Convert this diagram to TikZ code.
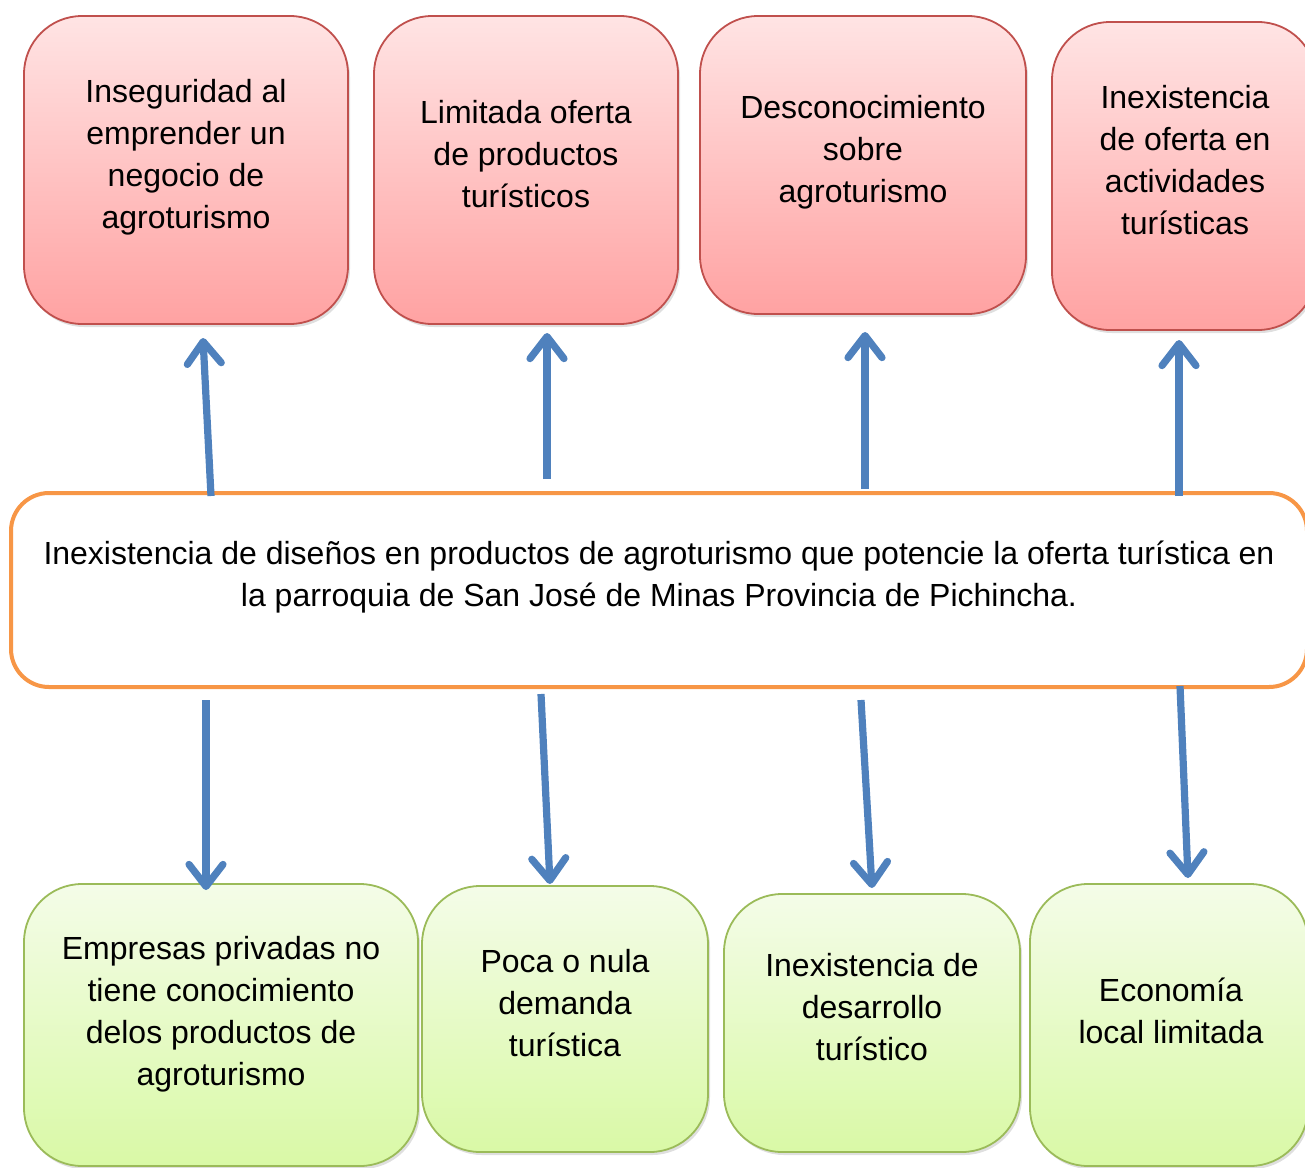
\documentclass[tikz,border=0pt]{standalone}
\usepackage{fontspec}
\setmainfont{Liberation Sans}
\usetikzlibrary{arrows.meta,shadows}
\definecolor{redtop}{RGB}{255,228,228}
\definecolor{redbot}{RGB}{255,162,162}
\definecolor{redline}{RGB}{192,80,77}
\definecolor{greentop}{RGB}{244,252,232}
\definecolor{greenbot}{RGB}{217,249,166}
\definecolor{greenline}{RGB}{155,187,89}
\definecolor{orangeline}{RGB}{247,150,70}
\definecolor{arrowblue}{RGB}{79,129,189}
\tikzset{
  redbox/.style={rectangle, rounded corners=29pt, draw=redline, line width=0.9pt,
    top color=redtop, bottom color=redbot,
    drop shadow={opacity=0.25, shadow xshift=1pt, shadow yshift=-1.5pt}},
  greenbox/.style={rectangle, rounded corners=29pt, draw=greenline, line width=0.9pt,
    top color=greentop, bottom color=greenbot,
    drop shadow={opacity=0.25, shadow xshift=1pt, shadow yshift=-1.5pt}},
  centerbox/.style={rectangle, rounded corners=19pt, draw=orangeline, line width=2pt, fill=white},
  txt/.style={align=center, font=\fontsize{16}{21}\selectfont, inner sep=0pt},
  arr/.style={draw=arrowblue, line width=3.6pt,
    -{Straight Barb[length=11pt,width=17pt,round]}}
}
\begin{document}
\begin{tikzpicture}[x=0.5pt,y=-0.5pt]
\useasboundingbox (0,0) rectangle (1305,1167);
\clip (0,0) rectangle (1305,1167);
% top boxes
\node[redbox, minimum width=162pt, minimum height=154pt] (r1) at (186,170) {};
\node[redbox, minimum width=152pt, minimum height=154pt] (r2) at (526,170) {};
\node[redbox, minimum width=163pt, minimum height=149pt] (r3) at (863,165) {};
\node[redbox, minimum width=132pt, minimum height=154pt] (r4) at (1184,176) {};
\node[txt] (r1t) at (186,157) {Inseguridad al\\emprender un\\negocio de\\agroturismo};
\node[txt] (r2t) at (526,154) {Limitada oferta\\de productos\\turísticos};
\node[txt] (r3t) at (863,152) {Desconocimiento\\sobre\\agroturismo};
\node[txt] (r4t) at (1185,160) {Inexistencia\\de oferta en\\actividades\\turísticas};
% center box
\node[centerbox, minimum width=648pt, minimum height=97pt] (c) at (659,590) {};
\node[txt] (ct) at (659,577) {Inexistencia de diseños en productos de agroturismo que potencie la oferta turística en\\la parroquia de San José de Minas Provincia de Pichincha.};
% bottom boxes
\node[greenbox, minimum width=197pt, minimum height=141pt] (g1) at (221,1025) {};
\node[greenbox, minimum width=143pt, minimum height=133pt] (g2) at (565,1019) {};
\node[greenbox, minimum width=148pt, minimum height=129pt] (g3) at (872,1023) {};
\node[greenbox, minimum width=139pt, minimum height=141pt] (g4) at (1169,1025) {};
\node[txt] (g1t) at (221,1014) {Empresas privadas no\\tiene conocimiento\\delos productos de\\agroturismo};
\node[txt] (g2t) at (565,1003) {Poca o nula\\demanda\\turística};
\node[txt] (g3t) at (872,1007) {Inexistencia de\\desarrollo\\turístico};
\node[txt] (g4t) at (1171,1011) {Economía\\local limitada};
% arrow end points
\coordinate (u1s) at (211,496); \coordinate (u1e) at (203,338);
\coordinate (u2s) at (547,479); \coordinate (u2e) at (547,333);
\coordinate (u3s) at (865,489); \coordinate (u3e) at (865,332);
\coordinate (u4s) at (1179,496); \coordinate (u4e) at (1179,340);
\coordinate (d1s) at (206,700); \coordinate (d1e) at (206,890);
\coordinate (d2s) at (541,694); \coordinate (d2e) at (550,884);
\coordinate (d3s) at (861,700); \coordinate (d3e) at (872,888);
\coordinate (d4s) at (1180,686); \coordinate (d4e) at (1188,878);
\foreach \a in {u1,u2,u3,u4,d1,d2,d3,d4}{
  \draw[arr] (\a s) -- (\a e);
}
\end{tikzpicture}
\end{document}
